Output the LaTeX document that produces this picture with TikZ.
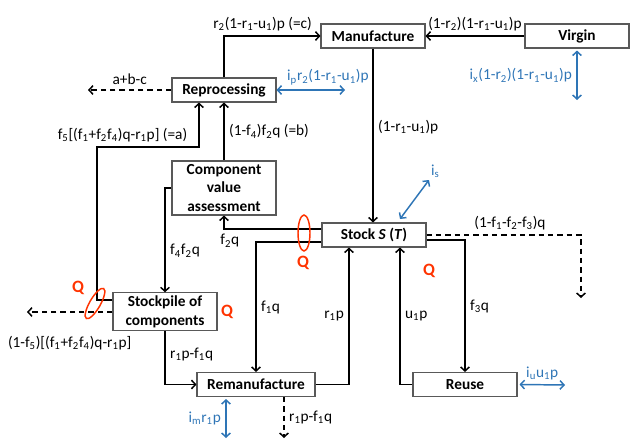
\documentclass[tikz,border=0pt]{standalone}
\usepackage{fontspec}
\setmainfont{Carlito}
\usepackage{xcolor}
\usepackage{tikz}
\usetikzlibrary{arrows.meta}
\definecolor{SCBlue}{HTML}{2E75B6}
\definecolor{SCRed}{HTML}{FF3300}
\definecolor{SCGray}{HTML}{595959}
\newcommand{\sbs}[1]{\textsubscript{#1}}

\begin{document}
\begin{tikzpicture}[
        x=0.75pt,y=-0.75pt,
        every node/.style={font=\fontsize{11.5}{13.5}\selectfont},
        box/.style={draw=SCGray,line width=0.8pt,align=center,minimum width=78pt,minimum height=18pt,inner sep=1pt,font=\fontsize{11.5}{14}\selectfont\bfseries},
        flow/.style={-{Straight Barb[length=3pt,width=6.5pt]},line width=1.1pt},
        dflow/.style={flow,dash pattern=on 4pt off 3pt},
        bflow/.style={{Straight Barb[length=3pt,width=6.5pt]}-{Straight Barb[length=3pt,width=6.5pt]},line width=1.1pt,draw=SCBlue},
        blab/.style={text=SCBlue},
        qring/.style={draw=SCRed,line width=1.1pt},
        qlab/.style={text=SCRed,font=\fontsize{13}{15}\selectfont\bfseries}
      ]
      \useasboundingbox (0,0) rectangle (637,439);

      \node[box] (manuf) at (373,36) {Manufacture};
      \node[box] (virgin) at (577,36) {Virgin};
      \node[box] (reproc) at (224,90) {Reprocessing};
      \node[box,minimum height=40.5pt] (cva) at (224,188) {Component\\value\\assessment};
      \node[box] (stock) at (374,235) {Stock \textit{S} (\textit{T})};
      \node[box,minimum height=28pt] (stockpile) at (165,311.5) {Stockpile of\\components};
      \node[box,minimum width=88.5pt] (reman) at (256,384.5) {Remanufacture};
      \node[box] (reuse) at (465,384.5) {Reuse};

      \coordinate (reprocout) at (88,90);
      \coordinate (ipend) at (345,90);
      \coordinate (vend) at (577,100);
      \coordinate (stockout) at (581,298);
      \coordinate (spout) at (27,312);
      \coordinate (remanout) at (284,438);
      \coordinate (imend) at (226,438);
      \coordinate (iuend) at (565,385);
      \coordinate (isstart) at (400,219);
      \coordinate (isend) at (429,180);

      \draw[flow] (virgin) -- node[above] {(1-r\sbs{2})(1-r\sbs{1}-u\sbs{1})p} (manuf);
      \draw[flow] (reproc.north) |- node[above,pos=0.7] {r\sbs{2}(1-r\sbs{1}-u\sbs{1})p (=c)} (manuf.west);
      \draw[dflow] (reproc) -- node[above] {a+b-c} (reprocout);
      \draw[bflow] (reproc) -- node[above,blab,pos=0.75] {i\sbs{p}r\sbs{2}(1-r\sbs{1}-u\sbs{1})p} (ipend);
      \draw[flow] (manuf.south) -- node[right,pos=0.45] {(1-r\sbs{1}-u\sbs{1})p} (manuf.south |- stock.north);
      \draw[bflow] ([yshift=-1.5pt]virgin.south) -- node[left,blab] {i\sbs{x}(1-r\sbs{2})(1-r\sbs{1}-u\sbs{1})p} (vend);
      \draw[flow] (cva) -- node[right] {(1-f\sbs{4})f\sbs{2}q (=b)} (reproc);
      \draw[flow] (stockpile.west |- 0,300) -- (97,300) -- (97,147)
        -- node[above,pos=0.25] {f\sbs{5}[(f\sbs{1}+f\sbs{2}f\sbs{4})q-r\sbs{1}p] (=a)} (199,147) -- (199,0 |- reproc.south);
      \draw[flow] (cva.west) -| node[right,pos=0.8] {f\sbs{4}f\sbs{2}q} (stockpile.north);
      \draw[flow] (stock.west |- 0,229) -| node[below,pos=0.47] {f\sbs{2}q} (cva.south);
      \draw[flow] (stock.west |- 0,242) -| node[right,pos=0.75] {f\sbs{1}q} (reman.north);
      \draw[flow] (reman.east) -| node[left,pos=0.75] {r\sbs{1}p} (349,0 |- stock.south);
      \draw[flow] (reuse.west) -| node[right,pos=0.75] {u\sbs{1}p} (400,0 |- stock.south);
      \draw[flow] (stock.east |- 0,240) -| node[right,pos=0.75] {f\sbs{3}q} (reuse.north);
      \draw[dflow] (stock.east) -| node[above,pos=0.27] {(1-f\sbs{1}-f\sbs{2}-f\sbs{3})q} (stockout);
      \draw[flow] (stockpile.south) |- node[right,pos=0.22] {r\sbs{1}p-f\sbs{1}q} (reman.west);
      \draw[dflow] (stockpile.west |- 0,312) -- node[below=14pt] {(1-f\sbs{5})[(f\sbs{1}+f\sbs{2}f\sbs{4})q-r\sbs{1}p]} (spout);
      \draw[dflow] (284,0 |- reman.south) -- node[right] {r\sbs{1}p-f\sbs{1}q} (remanout);
      \draw[bflow] ([yshift=-1.5pt]226,0 |- reman.south) -- node[left,blab] {i\sbs{m}r\sbs{1}p} (imend);
      \draw[bflow] ([xshift=1.5pt]reuse.east) -- node[above,blab] {i\sbs{u}u\sbs{1}p} (iuend);
      \draw[bflow] (isstart) -- (isend) node[above right,blab,inner sep=1pt] (islab) {i\sbs{s}};

      \draw[qring] (304,233) ellipse [x radius=4.5pt, y radius=13.5pt];
      \draw[qring] (95,303.5) ellipse [x radius=4pt, y radius=13pt, rotate=-30];
      \node[qlab] (q1) at (303,263) {Q};
      \node[qlab] (q2) at (78,288) {Q};
      \node[qlab] (q3) at (227,312) {Q};
      \node[qlab] (q4) at (429,271) {Q};
    \end{tikzpicture}
\end{document}
